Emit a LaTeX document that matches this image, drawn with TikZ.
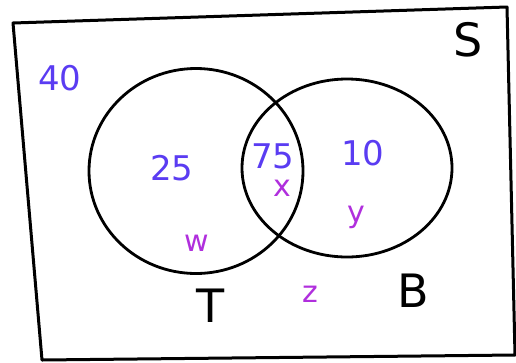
\documentclass[tikz,border=0pt]{standalone}
\usepackage{fontspec}
\setmainfont{DejaVu Sans}
\usepackage{xcolor}
\usetikzlibrary{shapes.geometric}
\definecolor{inkblue}{HTML}{5A3CF2}
\definecolor{inkpurple}{HTML}{B02FDD}

\begin{document}
\begin{tikzpicture}[
  x=1pt,y=-1pt,
  every node/.style={font=\rmfamily},
  frame/.style ={draw=black,line width=3pt,line join=round},
  setc/.style  ={ellipse,draw=black,line width=2.8pt,inner sep=0pt},
  count/.style ={text=inkblue,font=\rmfamily\fontsize{34}{34}\selectfont},
  unkn/.style  ={text=inkpurple,font=\rmfamily\fontsize{30}{30}\selectfont},
  setlbl/.style={text=black,font=\rmfamily\fontsize{46}{46}\selectfont}]

  \useasboundingbox (0,0) rectangle (516,362);

  % ===== UNIVERSE S =====
  \coordinate (c1) at ( 13, 23);
  \coordinate (c2) at (507,  7);
  \coordinate (c3) at (515,355);
  \coordinate (c4) at ( 42,360);
  \draw[frame] (c1) -- (c2) -- (c3) -- (c4) -- cycle;
  \node[setlbl] (s) at (468, 40) {S};

  % ===== SETS T AND B =====
  \node[setc,minimum width=214pt,minimum height=205pt] (t) at (196,171) {};
  \node[setc,minimum width=210pt,minimum height=178pt] (b) at (347,168) {};
  \node[setlbl] (tlbl) at (211,306) {T};
  \node[setlbl] (blbl) at (413,291) {B};

  % ===== COUNTS =====
  \node[count] (n40) at ( 60, 78) {40};
  \node[count] (n25) at (172,168) {25};
  \node[count] (n75) at (273,156) {75};
  \node[count] (n10) at (363,153) {10};

  % ===== UNKNOWNS =====
  \node[unkn] (x) at (282,188) {x};
  \node[unkn] (y) at (356,217) {y};
  \node[unkn] (w) at (197,243) {w};
  \node[unkn] (z) at (310,294) {z};

\end{tikzpicture}
\end{document}
